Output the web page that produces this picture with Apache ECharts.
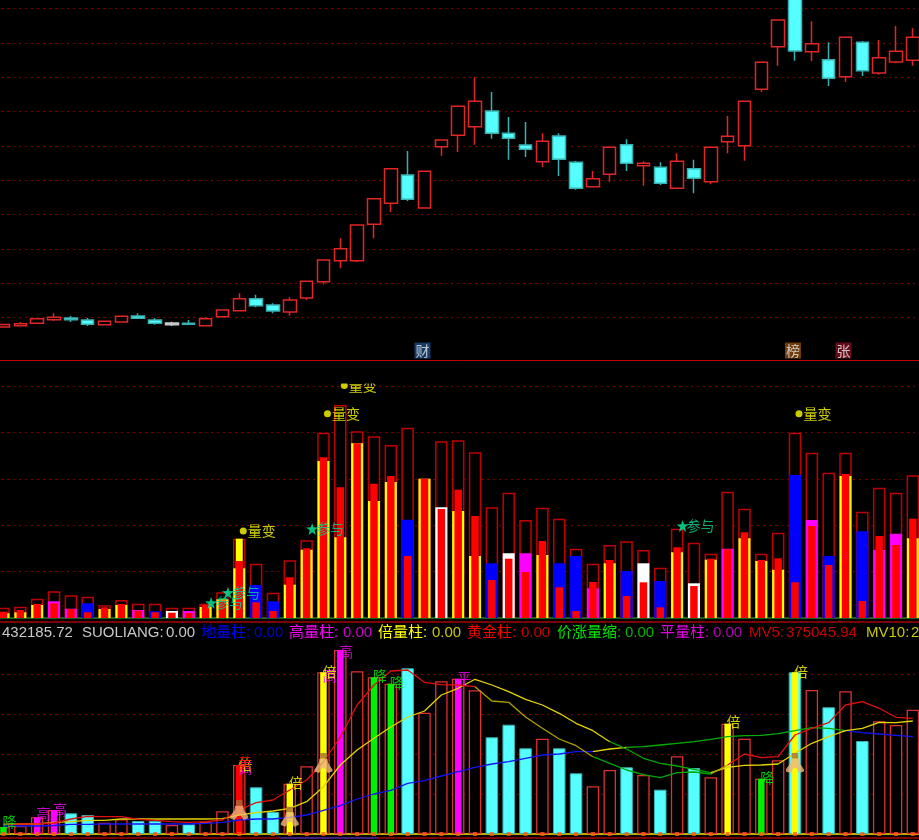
<!DOCTYPE html>
<html><head><meta charset="utf-8">
<style>html,body{margin:0;padding:0;background:#000;overflow:hidden}#c{width:919px;height:840px}</style>
<script src="https://cdn.jsdelivr.net/npm/echarts@6/dist/echarts.min.js"></script>
</head><body><div id="c"></div>
<script>
// ---- candles ----
const candleOpen=[25,26.3,28.7,32.3,34,32,27.3,30,36,32,29,28.7,26.3,35.3,41.3,53.3,47,40,54,70.3,91.3,91.3,127.7,148.7,177,144,205.3,216.7,225.3,241,218.7,207,190.3,216,189.7,165.3,177.7,207.3,186.3,184.7,163.7,183.3,170.3,210.3,206.3,262.7,305.3,364,300.3,292.3,275.3,309.7,279,290,291.7];
const candleClose=[27.5,28.3,33.3,34.7,32.3,27.7,30.7,35.7,33.7,28.7,27.3,27.7,33.3,42,53.3,46.3,41,52,70.7,92,103.3,127,153.3,183.3,152.7,180.7,212,245.7,250.7,218.7,213.7,202.7,210.7,192.7,163.7,173.3,204.7,188.7,188.7,168.7,190.7,173.7,204.7,215.7,250.7,289.7,332,301,308.3,273.7,314.7,281.3,294.3,300.7,314.7];
const candleLow=[25,26.3,28.7,31,30,26,27.3,30,33.7,27.3,26,27.7,26.3,35.3,41.3,44.7,38.7,36.3,52,67.7,83.7,90,113.7,140,151,144,196.3,200,207.3,213.3,192.3,195,185,176,162.3,165.3,170.3,181,166.3,167,163.7,158.7,167.7,198.7,191.3,260,286.3,291.3,291,266,270,276,277.3,288.7,286.3];
const candleHigh=[27.5,30,33.3,38.7,36,34,30.7,35.7,38.7,34,30.3,32,34.7,42,58.7,57.3,48.7,54.7,70.7,92,113.7,127,153.3,183.3,201,180.7,212,245.7,274.7,260,235,230,218.7,218.7,191,181,204.7,212.7,190.7,189.7,198.7,192.3,204.7,236,250.7,289.7,332,364,330.7,309.7,314.7,311,312,326,323.7];
const greyCandles=[10];
const newsIdx=[25,47,50];
const newsText=['财','榜','张'];
const newsColor=['#1a4a80','#8a4a10','#801020'];

// ---- volume pane ----
const volOuter=[10.3,11.3,19.3,26.7,22.7,21.3,12.7,18,14.3,14.3,10.3,10.3,14.3,25.7,79.3,54.3,25.3,57.7,77.7,185.3,213,186.7,181.7,173,190.3,139.3,176.7,177.7,165.7,110.7,125.3,98,110.3,99.3,69.3,54.3,73,76.7,68,50.3,89.3,75.3,64.3,126.3,109.3,64.3,85.3,185.3,165.3,145.3,165.3,106.3,130.3,125.3,142.7];
const volInner=[4.7,5.7,13,16.7,9.3,14.7,9,13,8,6.7,7,7,11,18.7,49.7,33,16.7,33.3,68.3,157,80.7,174.7,117,136,98.3,139.3,110.7,107,62,54.7,64.7,64.7,63,54.7,62,29.7,54.7,47,54.7,37,65.7,34.7,58.3,69.3,79.7,57,48.3,143,98,62,142,86.7,68,84.3,79.7];
const volKind='yyymmbyymbwmyyybbyyyyyyybywyybwmybbmybwbywymyyybmbybmmy'.split('');
const volCore=[6.3,8,14,14.7,9,5.7,10.7,14,7.3,5.7,5.3,5,13,17.5,57,15.7,7,40.7,69.7,160.7,130.7,174.7,134.3,142,62,139.3,109,128.3,102,38,59.3,46,77,30.7,7,36,58,22,35.7,10.7,70.7,32,59.3,68.7,85.7,58,59.7,35.7,92,53,144,17,82,73,99.3];
const volPeakIdx=14, volPeakVal=79.3;
const changeIdx=[14,19,20,47];
const changeVal=[87,204.3,232.6,204.3];
const joinIdx=[12,13,18,40];
const joinVal=[15,25.3,89,92];

// ---- third pane ----
const bodyVal=[7,8,16.7,24,20.7,19,11.3,14.7,13,13,9,9.7,12.3,22.7,69,46.7,22,50.3,67.7,161.7,184,162.7,156.7,150.3,165.7,121.3,152.7,155.3,143.7,96.7,109.3,85.7,95.3,85.7,60.7,47.7,64,66.7,59,44.3,77.7,66,56.7,110.3,95.3,55.3,73.7,161.7,144,126.7,142.7,93,112.7,109,124.3];
const downBars=[4,5,8,9,11,15,16,24,29,30,31,33,34,37,39,41,47,49,51];
const coreIdx=[0,2,3,14,17,19,20,22,23,27,43,45,47];
const coreKind=['g','m','m','r','y','y','m','g','g','m','y','g','y'];
const mv5=[10,10,10,11,15,17.7,17.3,17.3,14.7,13.7,12.3,11.7,12.3,14,24,31.3,34,44,54,72,97,129,149,163,164,151.7,149.3,149,147.3,133,131.7,117,105.7,95,88.3,77.3,70.7,64,59.3,56.3,61.3,62,60,69,80,76.3,77.3,99,105.7,111.3,129,132.3,125.7,116.7,115.7];
const mv10=[9.7,10,10,11.7,12.3,13.7,13.7,15,15,15,15,15,15,15.3,19,21.3,23,25.7,32.3,47.3,69,84,95.7,107,117,123,139,145.7,154.7,149,142.3,134.7,129,120.7,110.7,103.3,92.3,85,75.7,70.7,68,64.7,61.3,66.7,68.7,69,70,80.7,90.7,97.3,103.3,105.7,111.7,111.3,113];
const mv30=[8,8,8,8.5,9.7,9.7,10,10,10,10,10,10,10.7,11.7,14,15,15,16.7,19,23.7,28.3,35,40,43.7,50.7,53.3,58,62.3,66.7,70,72.3,75.7,79,80,82.3,82.3,85,86.7,87.3,89,90.7,92.3,94.7,97.3,98.3,98.7,100.3,103.3,106.3,105.7,103.3,101.3,100,98.7,97.3];
const mv5Runs=[[0,28,'#e01010'],[28,35,'#b0a000'],[35,42,'#00a800'],[42,43,'#b0a000'],[43,54,'#e01010']];
const mv10Runs=[[0,36,'#e4d400'],[36,42,'#00a800'],[42,54,'#e4d400']];
const mv30Runs=[[0,35,'#1414f0'],[35,37,'#e4d400'],[37,50,'#00b000'],[50,54,'#1414f0']];
const signalIdx=[0,2,3,14,14,14,17,19,19,20,22,23,27,43,45,47];
const signalVal=[12,20,24,66,69,71,51,158,162,182,158,151,156,112,56,162];
const signalText=['降','高','高','高','倍','黄','倍','高','倍','高','降','降','平','倍','降','倍'];
const signalKind=['g','m','m','m','y','r','y','m','y','m','g','g','m','y','g','y'];
const runnerIdx=[14,17,19,47];
const runnerVal=[24,17.3,71,71];

// ---- legend line ----
const legendText=['432185.72','SUOLIANG:','0.00','地量柱:','0.00','高量柱:','0.00','倍量柱:','0.00','黄金柱:','0.00','价涨量缩:','0.00','平量柱:','0.00','MV5:','375045.94','MV10:','2'];
const legendColor=['#c8c8c8','#c8c8c8','#c8c8c8','#0000ff','#0000c8','#ff00ff','#c800c8','#ffff00','#c8c800','#ff0000','#c80000','#00e000','#00b000','#e000e0','#b000b0','#c80000','#c80000','#c8c800','#c8c800'];
const legendLeft=[2,82,166,201,254,289,343,378,432,467,521,557,625,660,713,749,786,866,911];

const palette={y:'#ffff00',m:'#ff00ff',b:'#0000ff',w:'#ffffff',g:'#00f000',r:'#ff0000'};
const cats=candleOpen.map((_,i)=>i);
const CJK='"Noto Sans CJK SC"';

function xa(grid,line){return {type:'category',gridIndex:grid,data:cats,boundaryGap:true,
  axisLabel:{show:false},axisTick:{show:false},splitLine:{show:false},
  axisLine:line?{show:true,onZero:true,lineStyle:{color:line[0],width:line[1]}}:{show:false}};}
function ya(grid,max,interval){return {type:'value',gridIndex:grid,min:0,max,interval,
  axisLabel:{show:false},axisLine:{show:false},axisTick:{show:false},
  splitLine:{show:true,showMinLine:false,showMaxLine:false,lineStyle:{color:'#800000',width:1,type:[2,4]}}};}

const series=[];
// candles
series.push({type:'candlestick',name:'K',xAxisIndex:0,yAxisIndex:0,barWidth:13,z:3,
  itemStyle:{color:'#000',color0:'#55ffff',borderColor:'#e02626',borderColor0:'#38b0b0',borderWidth:1.5},
  data:cats.map(i=>{
    const value=[candleOpen[i],candleClose[i],candleLow[i],candleHigh[i]];
    return greyCandles.includes(i)?{value,itemStyle:{color0:'#c8c8c8',borderColor0:'#c8c8c8'}}:value;})});
series.push({type:'scatter',name:'news',xAxisIndex:0,yAxisIndex:0,symbol:'rect',symbolSize:16,symbolOffset:[-2,0],z:4,
  data:newsIdx.map((x,k)=>({value:[x,1.5],itemStyle:{color:newsColor[k]},
    label:{show:true,position:'inside',formatter:newsText[k],color:'#e8e8e8',fontSize:14,fontFamily:CJK}}))});
// volume pane
series.push({type:'bar',name:'VOL',xAxisIndex:1,yAxisIndex:1,barWidth:12.5,z:2,
  itemStyle:{color:'#000',borderColor:'#c00000',borderWidth:1.5},data:volOuter});
series.push({type:'bar',name:'量柱',xAxisIndex:2,yAxisIndex:1,barWidth:12,z:3,
  data:volInner.map((v,i)=>({value:v,itemStyle:{color:palette[volKind[i]]}}))});
series.push({type:'bar',name:'量峰',xAxisIndex:4,yAxisIndex:1,barWidth:7,z:4,
  itemStyle:{color:'#ffff00'},data:cats.map(i=>i===volPeakIdx?volPeakVal:null)});
series.push({type:'bar',name:'SUOLIANG',xAxisIndex:3,yAxisIndex:1,barWidth:7.5,z:5,
  itemStyle:{color:'#ff0000'},data:volCore});
const labelStyle=c=>({show:true,position:'right',color:c,fontSize:14,fontFamily:CJK});
series.push({type:'scatter',name:'量变',xAxisIndex:1,yAxisIndex:1,symbol:'circle',symbolSize:7,symbolOffset:[4,0],z:7,
  itemStyle:{color:'#ffff00'},label:Object.assign(labelStyle('#ffff00'),{formatter:'量变',distance:1}),
  data:changeIdx.map((x,k)=>[x,changeVal[k]])});
series.push({type:'scatter',name:'参与',xAxisIndex:1,yAxisIndex:1,
  symbol:'path://M50,0 L62,35 L100,38 L70,60 L80,100 L50,78 L20,100 L30,60 L0,38 L38,35 Z',symbolSize:12,symbolOffset:[5.5,0],z:7,
  itemStyle:{color:'#00f0a0'},label:Object.assign(labelStyle('#00d898'),{formatter:'参与',distance:-2}),
  data:joinIdx.map((x,k)=>[x,joinVal[k]])});
// third pane
series.push({type:'bar',name:'price',xAxisIndex:5,yAxisIndex:2,barWidth:12.5,z:2,
  data:bodyVal.map((v,i)=>downBars.includes(i)
    ?{value:v,itemStyle:{color:'#55ffff',borderColor:'#38b0b0',borderWidth:1}}
    :{value:v,itemStyle:{color:'#000',borderColor:'#e03030',borderWidth:1.3}})});
series.push({type:'bar',name:'signal',xAxisIndex:6,yAxisIndex:2,barWidth:6.5,z:3,
  data:cats.map(i=>{const k=coreIdx.indexOf(i);
    return k<0?null:{value:bodyVal[i],itemStyle:{color:palette[coreKind[k]]}};})});
function runs(name,vals,list){list.forEach(r=>series.push({type:'line',name,xAxisIndex:7,yAxisIndex:2,symbol:'none',z:5,
  lineStyle:{color:r[2],width:1.3},connectNulls:false,
  data:vals.map((v,i)=>i>=r[0]&&i<=r[1]?v:null)}));}
runs('MV30',mv30,mv30Runs);runs('MV10',mv10,mv10Runs);runs('MV5',mv5,mv5Runs);
series.push({type:'scatter',name:'zero',xAxisIndex:7,yAxisIndex:2,symbol:'rect',symbolSize:4,z:6,
  itemStyle:{color:'#ff5a10'},data:cats.map(i=>[i,0])});
series.push({type:'scatter',name:'signals',xAxisIndex:7,yAxisIndex:2,symbolSize:0.1,symbolOffset:[6,0],z:8,
  data:signalIdx.map((x,k)=>({value:[x,signalVal[k]],z2:k,
    label:{show:true,position:'inside',formatter:signalText[k],color:palette[signalKind[k]],fontSize:14,fontFamily:CJK}}))});
const FRAME='M0,0 L0.01,0 L0,0.01 Z M100,100 L99.99,100 L100,99.99 Z ';
series.push({type:'scatter',name:'runner',xAxisIndex:7,yAxisIndex:2,z:9,symbolSize:[18,20],
  symbol:'path://'+FRAME+'M28,28 L72,28 L76,50 L100,82 L100,92 L74,100 L58,76 L42,76 L26,100 L0,92 L0,82 L24,50 Z',
  itemStyle:{color:'#eeb67c'},data:runnerIdx.map((x,k)=>[x,runnerVal[k]])});
series.push({type:'scatter',name:'runnerHead',xAxisIndex:7,yAxisIndex:2,z:9,symbolSize:[18,20],
  symbol:'path://'+FRAME+'M32,0 L68,0 L68,28 L32,28 Z',
  itemStyle:{color:'#a86a38'},data:runnerIdx.map((x,k)=>[x,runnerVal[k]])});

const graphic=[
 {type:'rect',z:100,shape:{x:0,y:361,width:919,height:22.5},style:{fill:'#000'}},
 {type:'line',z:101,shape:{x1:0,y1:360.5,x2:919,y2:360.5},style:{stroke:'#c00000',lineWidth:1}},
 {type:'line',z:101,shape:{x1:0,y1:622,x2:919,y2:622},style:{stroke:'#a00000',lineWidth:1.5}},
 {type:'line',z:101,shape:{x1:0,y1:838,x2:919,y2:838},style:{stroke:'#a00000',lineWidth:1.5}},
 {type:'line',z:102,shape:{x1:280,y1:838,x2:378,y2:838},style:{stroke:'#2a2aa0',lineWidth:1.5}}
].concat(legendText.map((t,k)=>({type:'text',z:103,x:legendLeft[k],y:633,
  style:{text:t,fill:legendColor[k],font:'15px "Liberation Sans","Noto Sans CJK SC"',textVerticalAlign:'middle',textAlign:'left'}})));

const W=16.84*55, L=-4.92;
const chart=echarts.init(document.getElementById('c'),null,{renderer:'canvas'});
chart.setOption({
  animation:false,backgroundColor:'#000',
  tooltip:{show:false},legend:{show:false},
  grid:[
    {left:L,width:W,top:352-377.63,height:377.63,outerBoundsMode:'none'},
    {left:L,width:W,top:378,height:240,outerBoundsMode:'none'},
    {left:L,width:W,top:644,height:190,outerBoundsMode:'none'}
  ],
  xAxis:[xa(0),xa(1,['#208020',1.5]),xa(1),xa(1),xa(1),xa(2,['#c0a800',2]),xa(2),xa(2)],
  yAxis:[ya(0,377.63,34.33),ya(1,240,46.4),ya(2,190,40)],
  series,graphic
});
</script></body></html>
